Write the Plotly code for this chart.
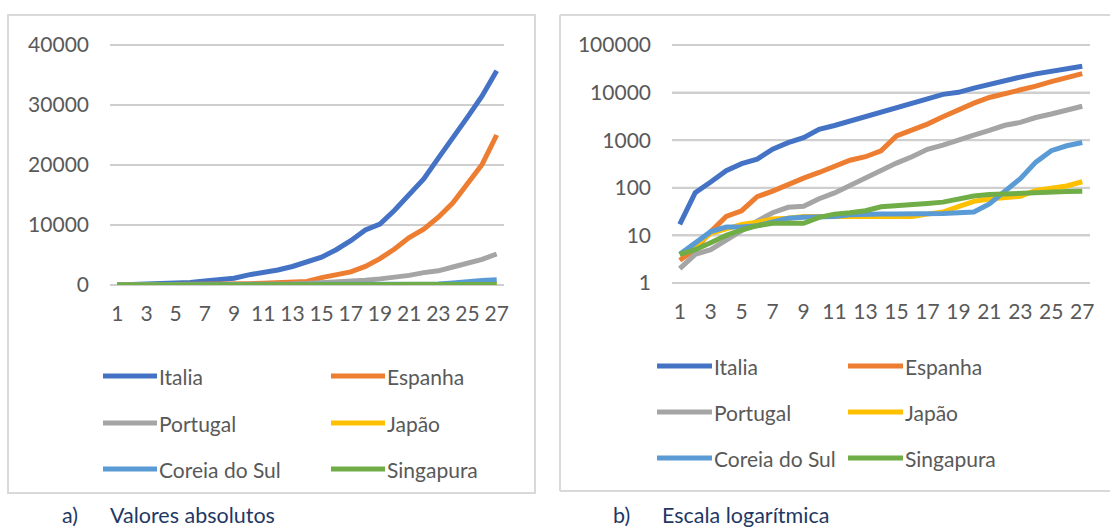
import math
import plotly.graph_objects as go

# ---------------- data ----------------
days = list(range(1, 28))
x_tick_vals = list(range(1, 28, 2))
countries = ["Italia", "Espanha", "Portugal", "Japão", "Coreia do Sul", "Singapura"]
colors = ["#4472C4", "#ED7D31", "#A5A5A5", "#FFC000", "#5B9BD5", "#70AD47"]

italia = [17, 79, 132, 229, 322, 400, 650, 888, 1128, 1694, 2036, 2502, 3089, 3858,
          4636, 5883, 7375, 9172, 10149, 12462, 15113, 17660, 21157, 24747, 27980, 31506, 35713]
espanha = [3, 5, 12, 25, 33, 65, 85, 120, 160, 210, 280, 380, 450, 600,
           1230, 1630, 2180, 3100, 4400, 6000, 7900, 9300, 11300, 13700, 17000, 20100, 25000]
portugal = [2, 4, 5, 8, 12, 20, 30, 39, 41, 59, 78, 112, 169, 245,
            331, 448, 642, 785, 1020, 1280, 1600, 2060, 2362, 2995, 3544, 4268, 5170]
japao = [4, 6, 11, 14, 17, 19, 22, 23, 25, 25, 25, 25, 25, 25,
         25, 25, 28, 31, 40, 52, 58, 62, 66, 88, 100, 109, 134]
coreia = [4, 7, 12, 15, 15, 16, 19, 23, 24, 24, 25, 27, 28, 28,
          28, 28, 28, 29, 30, 31, 46, 82, 156, 346, 602, 763, 893]
singapura = [4, 5, 7, 10, 13, 16, 18, 18, 18, 24, 28, 30, 33, 40,
             43, 45, 47, 50, 58, 67, 72, 75, 77, 81, 84, 84, 85]
series = [italia, espanha, portugal, japao, coreia, singapura]

abs_ticks = [0, 10000, 20000, 30000, 40000]
abs_tick_text = ["0", "10000", "20000", "30000", "40000"]
log_ticks = [1, 10, 100, 1000, 10000, 100000]
log_tick_text = ["1", "10", "100", "1000", "10000", "100000"]
captions = ["a)", "Valores absolutos", "b)", "Escala logarítmica"]

# ---------------- layout helpers ----------------
W, H = 1110, 527
def px(x):
    return x / W
def py(y):
    return 1 - y / H

FONT = "Lato, 'Open Sans', sans-serif"
FS = 21
GRID = "#D9D9D9"
GRIDLINE = "#CFCFCF"
TXT = "#595959"

ABS_MAX = 40000
LOG_MIN, LOG_MAX = 0, 5

fig = go.Figure()
for name, col, vals in zip(countries, colors, series):
    fig.add_trace(go.Scatter(x=days, y=vals, mode="lines", name=name,
                             line=dict(color=col, width=5), showlegend=False,
                             xaxis="x", yaxis="y"))
for name, col, vals in zip(countries, colors, series):
    fig.add_trace(go.Scatter(x=days, y=vals, mode="lines", name=name,
                             line=dict(color=col, width=5), showlegend=False,
                             xaxis="x2", yaxis="y2"))

common_x = dict(range=[0.5, 27.5], tickvals=x_tick_vals, showgrid=False, zeroline=False,
                showline=False, ticks="", ticklabelstandoff=14, automargin=False,
                tickfont=dict(family=FONT, size=FS, color=TXT), fixedrange=True)
common_y = dict(showgrid=True, gridcolor=GRIDLINE, gridwidth=2, showline=False, ticks="",
                ticklabelstandoff=20, automargin=False, fixedrange=True,
                tickfont=dict(family=FONT, size=FS, color=TXT))

fig.update_layout(
    width=W, height=H, margin=dict(l=0, r=0, t=0, b=0, pad=0, autoexpand=False),
    paper_bgcolor="white", plot_bgcolor="rgba(0,0,0,0)", showlegend=False,
    xaxis=dict(domain=[px(110), px(504)], anchor="y", **common_x),
    xaxis2=dict(domain=[px(672), px(1090)], anchor="y2", **common_x),
    yaxis=dict(domain=[py(285), py(45)], anchor="x", range=[0, ABS_MAX], tickvals=abs_ticks,
               ticktext=abs_tick_text, zeroline=True, zerolinecolor=GRIDLINE, zerolinewidth=2,
               **common_y),
    yaxis2=dict(domain=[py(283), py(45)], anchor="x2", type="log", range=[LOG_MIN, LOG_MAX],
                tickvals=log_ticks, ticktext=log_tick_text, zeroline=False, **common_y),
)

shapes = []
annotations = []

# horizontal gridlines (from the tick lists)
for t in abs_ticks:
    shapes.append(dict(type="line", xref="x domain", yref="y domain", x0=0, x1=1,
                       y0=t / ABS_MAX, y1=t / ABS_MAX, layer="below",
                       line=dict(color=GRIDLINE, width=2)))
for t in log_ticks:
    f = (math.log10(t) - LOG_MIN) / (LOG_MAX - LOG_MIN)
    shapes.append(dict(type="line", xref="x2 domain", yref="y2 domain", x0=0, x1=1,
                       y0=f, y1=f, layer="below", line=dict(color=GRIDLINE, width=2)))

# chart borders
shapes.append(dict(type="rect", xref="paper", yref="paper", x0=px(8), x1=px(535),
                   y0=py(493), y1=py(15), line=dict(color=GRID, width=2), layer="below"))
for (xa, ya, xb, yb) in [(560, 15, 1110, 15), (560, 15, 560, 491), (560, 491, 1110, 491)]:
    shapes.append(dict(type="line", xref="paper", yref="paper", x0=px(xa), x1=px(xb),
                       y0=py(ya), y1=py(yb), line=dict(color=GRID, width=2), layer="below"))

# legends (custom, built from countries/colors)
legend_cfg = [
    dict(cols=[103, 331], rows=[376, 423, 469], line_len=54),
    dict(cols=[657, 848], rows=[366, 412, 458], line_len=55),
]
for cfg in legend_cfg:
    for i, (name, col) in enumerate(zip(countries, colors)):
        r, c = divmod(i, 2)
        x0 = cfg["cols"][c]
        y = cfg["rows"][r]
        shapes.append(dict(type="line", xref="paper", yref="paper",
                           x0=px(x0), x1=px(x0 + cfg["line_len"]), y0=py(y), y1=py(y),
                           line=dict(color=col, width=5)))
        annotations.append(dict(xref="paper", yref="paper", x=px(x0 + cfg["line_len"]),
                                y=py(y), text=name, showarrow=False, xanchor="left",
                                yanchor="middle",
                                font=dict(family=FONT, size=FS, color=TXT)))

# captions
cap_pos = [(60, 515), (108, 515), (611, 515), (660, 515)]
for txt, (cx, cy) in zip(captions, cap_pos):
    annotations.append(dict(xref="paper", yref="paper", x=px(cx), y=py(cy), text=txt,
                            showarrow=False, xanchor="left", yanchor="middle",
                            font=dict(family=FONT, size=FS + 0.5, color="#1F3864")))

fig.update_layout(shapes=shapes, annotations=annotations)
fig.write_html("out.html", config={"displayModeBar": False},
               post_script="document.body.style.margin='0';")
